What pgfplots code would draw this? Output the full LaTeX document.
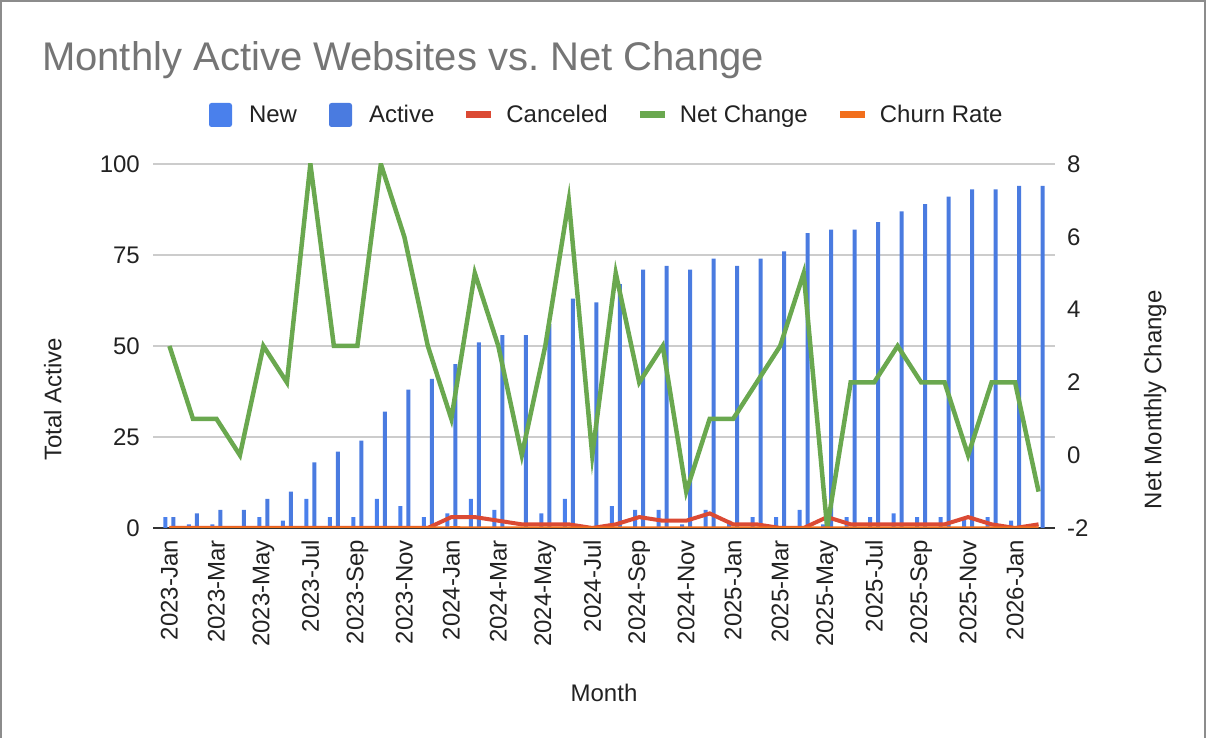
\documentclass[border=0pt]{standalone}
\usepackage{pgfplots}
\pgfplotsset{compat=1.18}
\usepackage{fontspec}
\setmainfont{Liberation Sans}
\definecolor{cNew}{HTML}{4A80EC}
\definecolor{cActive}{HTML}{4A7BE0}
\definecolor{cCanc}{HTML}{DB4A34}
\definecolor{cNet}{HTML}{6AA84F}
\definecolor{cChurn}{HTML}{F26F1C}
\definecolor{cGrid}{HTML}{CCCCCC}
\definecolor{cBase}{HTML}{333333}
\definecolor{cText}{HTML}{222222}
\definecolor{cTitle}{HTML}{757575}
\definecolor{cBorder}{HTML}{8C8C8C}

% Month index: 0 = 2023-Jan ... 37 = 2026-Feb
\pgfplotstableread{
i new active canceled net churn
0 3 3 0 3 0
1 1 4 0 1 0
2 1 5 0 1 0
3 0 5 0 0 0
4 3 8 0 3 0
5 2 10 0 2 0
6 8 18 0 8 0
7 3 21 0 3 0
8 3 24 0 3 0
9 8 32 0 8 0
10 6 38 0 6 0
11 3 41 0 3 0
12 4 45 3 1 0.07
13 8 51 3 5 0.06
14 5 53 2 3 0.04
15 0 53 1 0 0.02
16 4 56 1 3 0.02
17 8 63 1 7 0.02
18 0 62 0 0 0
19 6 67 1 5 0.01
20 5 71 3 2 0.04
21 5 72 2 3 0.03
22 1 71 2 -1 0.03
23 5 74 4 1 0.05
24 2 72 1 1 0.01
25 3 74 1 2 0.01
26 3 76 0 3 0
27 5 81 0 5 0
28 1 82 3 -2 0.04
29 3 82 1 2 0.01
30 3 84 1 2 0.01
31 4 87 1 3 0.01
32 3 89 1 2 0.01
33 3 91 1 2 0.01
34 3 93 3 0 0.03
35 3 93 1 2 0.01
36 2 94 0 2 0
37 0 94 1 -1 0.01
}\datatable

\pgfplotsset{
  common/.style={
    at={(153bp,210bp)}, anchor=south west,
    scale only axis, width=902bp, height=364bp,
    xmin=-0.7, xmax=37.7,
    /pgf/number format/assume math mode=true,
    tick style={draw=none},
  },
  barleg/.style={legend image code/.code={%
      \fill[#1, draw=none, rounded corners=2.5bp] (0bp,-12bp) rectangle (23bp,12bp);
      \path[draw=none, fill=none] (0bp,0bp) -- (40bp,0bp);}},
  lineleg/.style={legend image code/.code={%
      \fill[#1, draw=none] (0bp,-3.5bp) rectangle (25bp,3.5bp);
      \path[draw=none, fill=none] (0bp,0bp) -- (40bp,0bp);}},
}

\begin{document}
\begin{tikzpicture}[x=1bp,y=1bp]
\useasboundingbox (0,0) rectangle (1206,738);
\draw[color=cBorder, line width=2bp] (1,0) -- (1,737) -- (1205,737) -- (1205,0);
\node[anchor=base west, text=cTitle, font=\fontsize{40bp}{47bp}\selectfont, inner sep=0pt] at (42,667) {Monthly Active Websites vs.\ Net Change};

% Left axis: bars and canceled
\begin{axis}[common,
  ymin=0, ymax=100,
  axis x line*=bottom, axis y line*=left,
  x axis line style={draw=cBase, line width=2.5bp, -},
  y axis line style={draw=none},
  ymajorgrids, grid style={draw=cGrid, line width=1.6bp},
  xtick={0,2,...,36},
  xticklabels={2023-Jan,2023-Mar,2023-May,2023-Jul,2023-Sep,2023-Nov,2024-Jan,2024-Mar,2024-May,2024-Jul,2024-Sep,2024-Nov,2025-Jan,2025-Mar,2025-May,2025-Jul,2025-Sep,2025-Nov,2026-Jan},
  xticklabel style={rotate=90, anchor=east, inner xsep=12bp, inner ysep=0pt, font=\fontsize{24bp}{28bp}\selectfont, text=cText},
  ytick={0,25,50,75,100},
  yticklabel style={anchor=east, inner xsep=13bp, inner ysep=0pt, font=\fontsize{24bp}{28bp}\selectfont, text=cText},
  xlabel={Month}, ylabel={Total Active},
  every axis x label/.style={at={(axis description cs:0.5,-0.478)}, anchor=base, font=\fontsize{24bp}{28bp}\selectfont, text=cText},
  every axis y label/.style={at={(axis description cs:-0.111,0.354)}, anchor=center, rotate=90, font=\fontsize{24bp}{28bp}\selectfont, text=cText},
  legend columns=-1,
  legend style={at={(axis description cs:0.502,1.1346)}, anchor=center, draw=none, fill=none,
    font=\fontsize{24bp}{28bp}\selectfont, text=cText,
    /tikz/every even column/.append style={column sep=32bp},
    nodes={inner xsep=0pt, inner ysep=2bp}},
]
\addplot[ybar, bar width=4bp, bar shift=-4bp, fill=cNew, draw=none, barleg=cNew] table[x=i, y=new] {\datatable};
\addlegendentry{New}
\addplot[ybar, bar width=4bp, bar shift=4bp, fill=cActive, draw=none, barleg=cActive] table[x=i, y=active] {\datatable};
\addlegendentry{Active}
\addplot[color=cCanc, line width=4bp, mark=none, lineleg=cCanc] table[x=i, y=canceled] {\datatable};
\addlegendentry{Canceled}
\addlegendimage{lineleg=cNet}
\addlegendentry{Net Change}
\addlegendimage{lineleg=cChurn}
\addlegendentry{Churn Rate}
\end{axis}

% Right axis: net change
\begin{axis}[common,
  ymin=-2, ymax=8,
  axis x line=none, axis y line*=right,
  y axis line style={draw=none},
  ytick={-2,0,2,4,6,8},
  yticklabel style={anchor=west, inner xsep=12bp, inner ysep=0pt, font=\fontsize{24bp}{28bp}\selectfont, text=cText},
  ylabel={Net Monthly Change},
  every axis y label/.style={at={(axis description cs:1.111,0.352)}, anchor=center, rotate=90, font=\fontsize{24bp}{28bp}\selectfont, text=cText},
]
\addplot[color=cNet, line width=4.5bp, mark=none, line join=miter] table[x=i, y=net] {\datatable};
\end{axis}

% Left axis again: churn rate on top
\begin{axis}[common,
  ymin=0, ymax=100, axis lines=none, ticks=none,
]
\addplot[color=cChurn, line width=3bp, mark=none] table[x=i, y=churn] {\datatable};
\end{axis}
\end{tikzpicture}
\end{document}
